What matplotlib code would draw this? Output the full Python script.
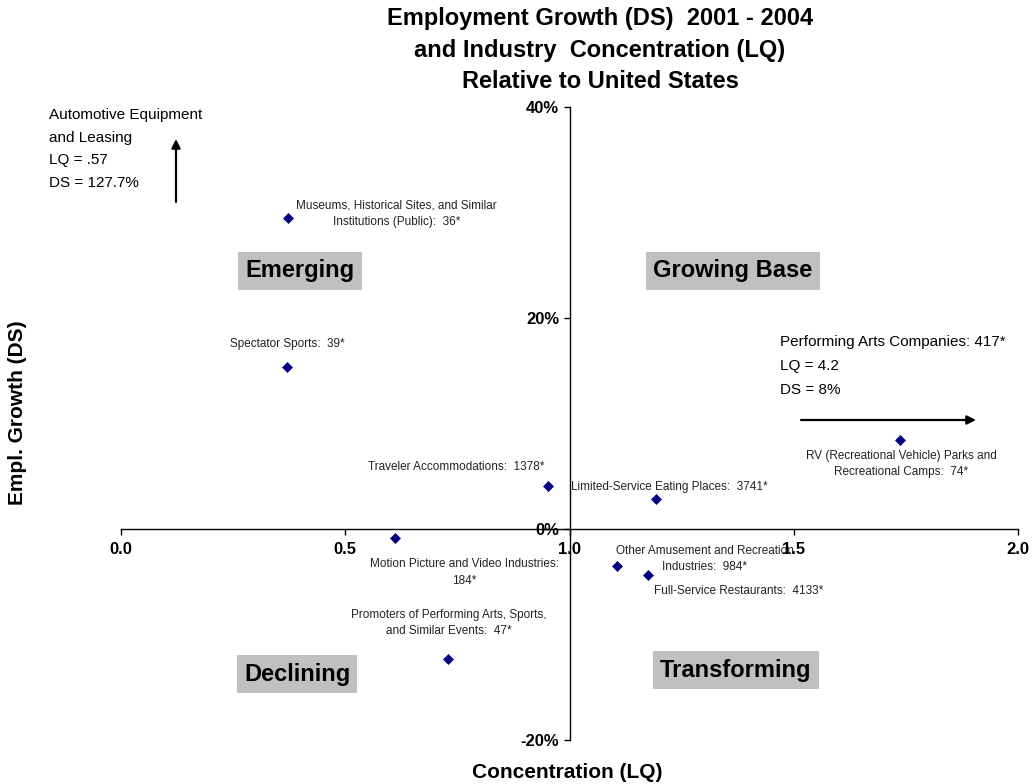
import matplotlib
matplotlib.use("Agg")
import matplotlib.pyplot as plt
from matplotlib.ticker import FixedLocator

plt.rcParams['font.family'] = ['Liberation Sans', 'DejaVu Sans']

# Industries: location quotient (LQ) and employment growth 2001-2004 (DS, %)
industries = [
    "Museums, Historical Sites, and Similar\nInstitutions (Public):  36*",
    "Spectator Sports:  39*",
    "Traveler Accommodations:  1378*",
    "Limited-Service Eating Places:  3741*",
    "Motion Picture and Video Industries:\n184*",
    "Promoters of Performing Arts, Sports,\nand Similar Events:  47*",
    "Other Amusement and Recreation\nIndustries:  984*",
    "Full-Service Restaurants:  4133*",
    "RV (Recreational Vehicle) Parks and\nRecreational Camps:  74*",
]
lq = [0.373, 0.370, 0.951, 1.192, 0.612, 0.728, 1.105, 1.174, 1.737]
ds = [29.5, 15.4, 4.1, 2.8, -0.9, -12.3, -3.5, -4.4, 8.4]

x_ticks = [0.0, 0.5, 1.0, 1.5, 2.0]
x_tick_labels = ["0.0", "0.5", "1.0", "1.5", "2.0"]
y_ticks = [-20, 0, 20, 40]
y_tick_labels = ["-20%", "0%", "20%", "40%"]

quadrants = ["Emerging", "Growing Base", "Declining", "Transforming"]

W, H = 1032, 784
fig = plt.figure(figsize=(W / 100, H / 100), dpi=100)
fig.patch.set_facecolor("white")


def fx(px):
    return px / W


def fy(py):
    return 1 - py / H


ax = fig.add_axes([fx(121), fy(740), (1018 - 121) / W, (740 - 107) / H])
ax.set_xlim(0, 2.0)
ax.set_ylim(-20, 40)

# Axes cross at LQ = 1.0 and DS = 0%
ax.spines['left'].set_position(('data', 1.0))
ax.spines['bottom'].set_position(('data', 0))
ax.spines['top'].set_visible(False)
ax.spines['right'].set_visible(False)
for s in ('left', 'bottom'):
    ax.spines[s].set_linewidth(1.0)
    ax.spines[s].set_color('black')

ax.xaxis.set_major_locator(FixedLocator(x_ticks))
ax.set_xticklabels(x_tick_labels, fontsize=12, fontweight='bold')
ax.yaxis.set_major_locator(FixedLocator(y_ticks))
ax.set_yticklabels(y_tick_labels, fontsize=12, fontweight='bold')
ax.tick_params(axis='x', direction='out', length=4, width=1, pad=5.5)
ax.tick_params(axis='y', direction='out', length=4, width=1, pad=3.5)

ax.plot(lq, ds, linestyle='none', marker='D', markersize=5.4,
        color='#000080', markeredgewidth=0.5)

# Point labels (offsets in pixels from each point)
offsets = [(108, 4), (0, 23), (-91, 19), (14, 12), (69, -34),
           (1, 36), (88, 7), (91, -16), (1, -24)]
for name, x, y, (dx, dy) in zip(industries, lq, ds, offsets):
    ax.annotate(name, (x, y), xytext=(dx, dy), textcoords='offset pixels',
                ha='center', va='center', fontsize=8.5, color='#222222',
                linespacing=1.45)

# Quadrant names in grey boxes
quad_pos = [(300, 271), (733, 271), (297, 674), (736, 670)]
for q, (px, py) in zip(quadrants, quad_pos):
    fig.text(fx(px), fy(py), q, ha='center', va='center', fontsize=17,
             fontweight='bold', color='black',
             bbox=dict(boxstyle='square,pad=0.3', fc='#c0c0c0', ec='none'))

# Off-chart industries noted with arrows
auto_lines = ["Automotive Equipment", "and Leasing", "LQ = .57", "DS = 127.7%"]
for i, line in enumerate(auto_lines):
    fig.text(fx(49), fy(115 + i * 22.7), line, ha='left', va='center',
             fontsize=11, color='black')
ax.annotate('', xy=((176 - 121) / 897, (740 - 139) / 633),
            xytext=((176 - 121) / 897, (740 - 202) / 633),
            xycoords='axes fraction', textcoords='axes fraction',
            arrowprops=dict(arrowstyle='-|>', lw=1.6, color='black',
                            mutation_scale=13, shrinkA=0, shrinkB=0))

perf_lines = ["Performing Arts Companies: 417*", "LQ = 4.2", "DS = 8%"]
for i, line in enumerate(perf_lines):
    fig.text(fx(780), fy(342 + i * 24), line, ha='left', va='center',
             fontsize=11, color='black')
ax.annotate('', xy=((976 - 121) / 897, (740 - 420) / 633),
            xytext=((801 - 121) / 897, (740 - 420) / 633),
            xycoords='axes fraction', textcoords='axes fraction',
            arrowprops=dict(arrowstyle='-|>', lw=1.6, color='black',
                            mutation_scale=13, shrinkA=0, shrinkB=0))

# Title and axis titles
title_lines = ["Employment Growth (DS)  2001 - 2004",
               "and Industry  Concentration (LQ)",
               "Relative to United States"]
for i, line in enumerate(title_lines):
    fig.text(fx(600), fy(19 + i * 31), line, ha='center', va='center',
             fontsize=17, fontweight='bold', color='black')

fig.text(fx(18), fy(413), "Empl. Growth (DS)", rotation=90, ha='center',
         va='center', fontsize=15, fontweight='bold')
fig.text(fx(567), fy(772), "Concentration (LQ)", ha='center', va='center',
         fontsize=15, fontweight='bold')

fig.savefig("out.png", dpi=100, facecolor='white')
